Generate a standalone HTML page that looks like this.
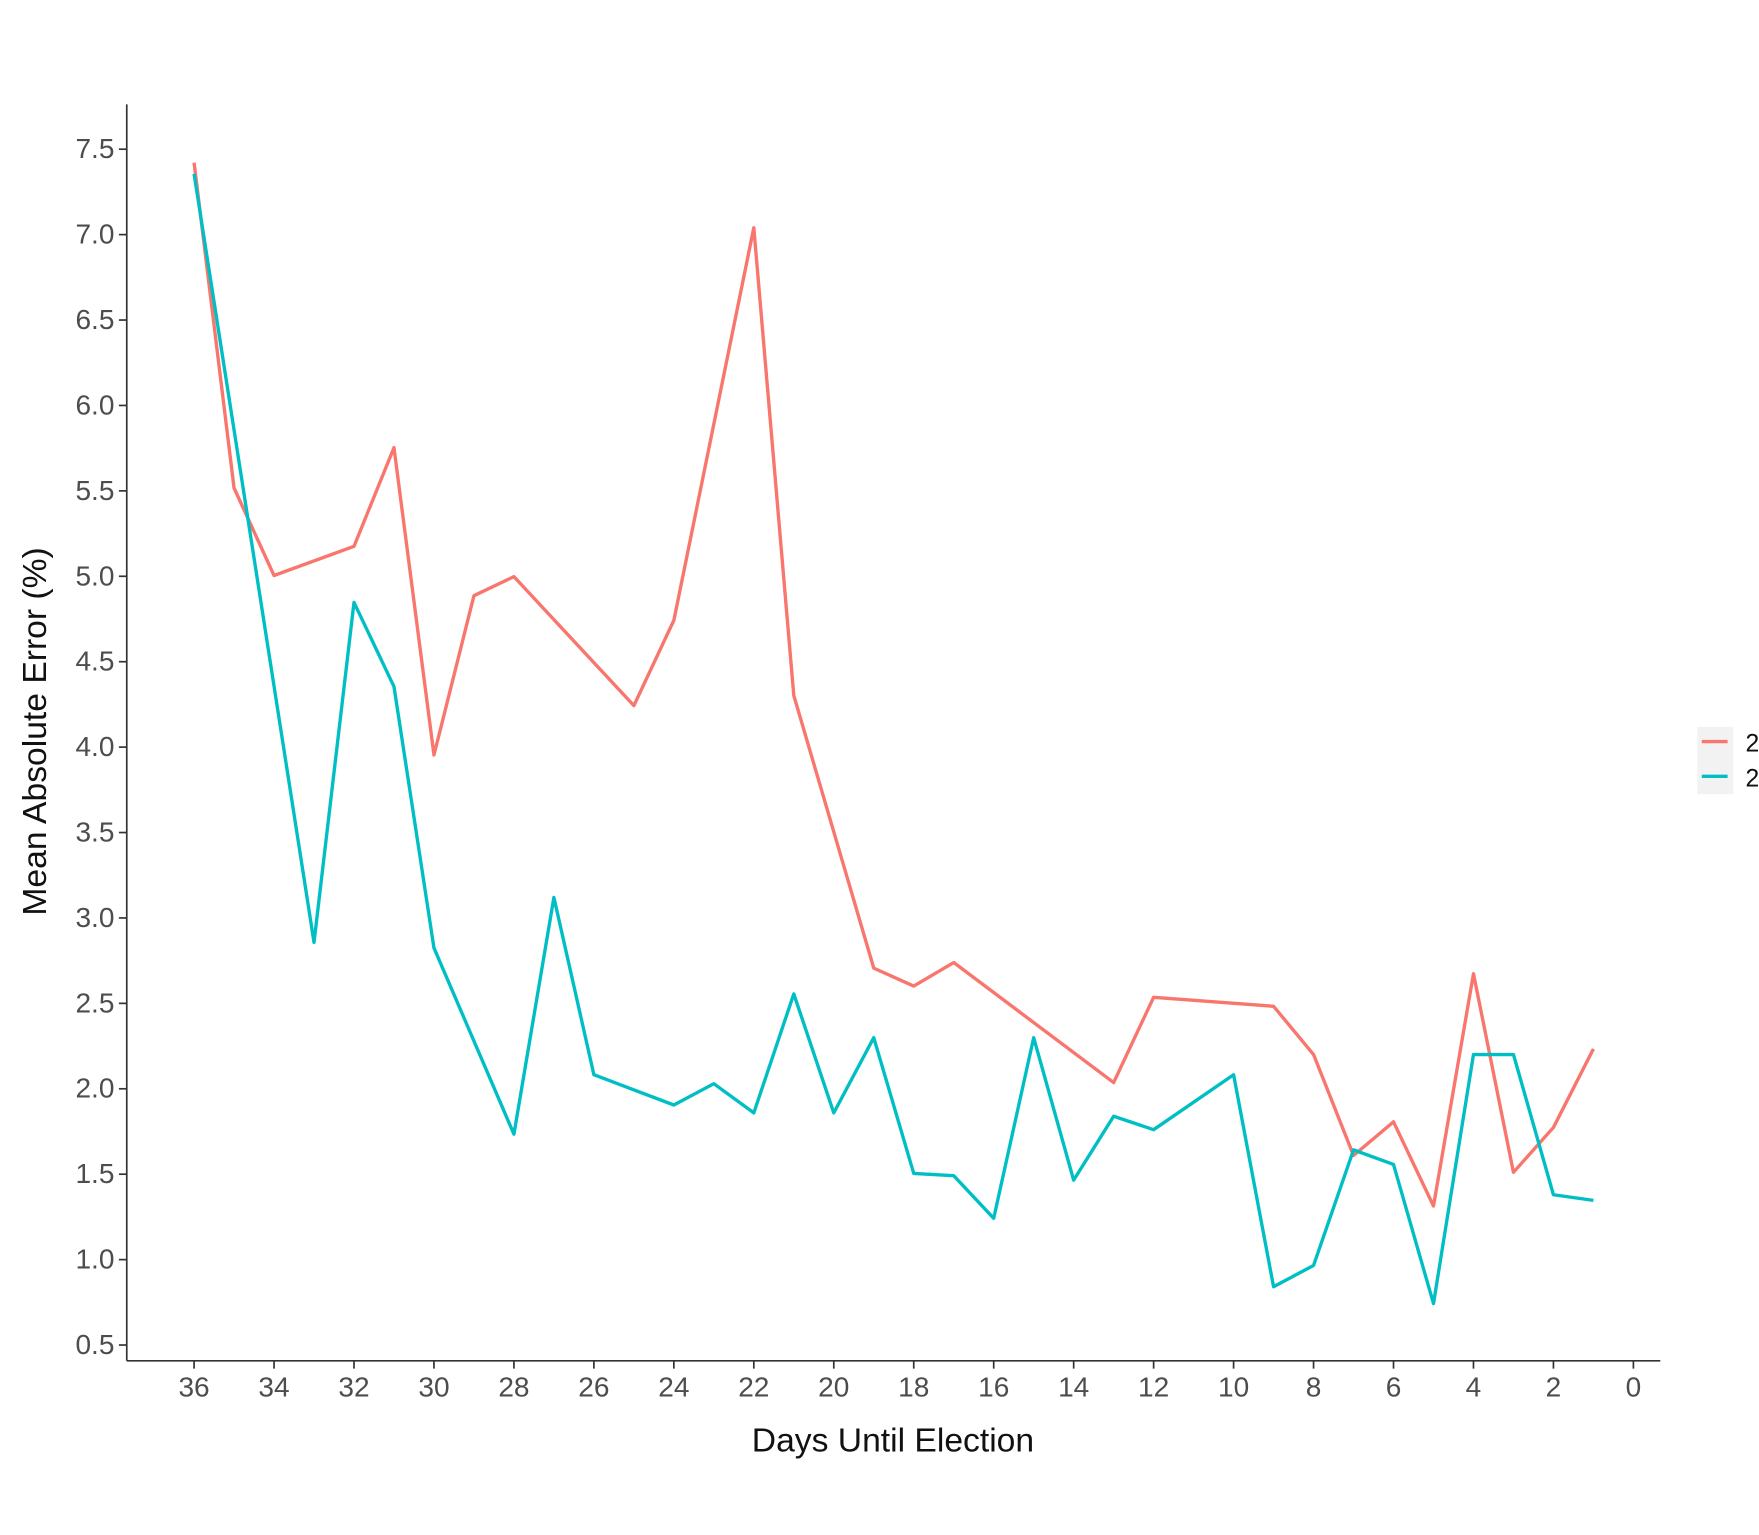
<!DOCTYPE html>
<html><head><meta charset="utf-8"><style>
html,body{margin:0;padding:0;background:#fff;}
svg{display:block}
text{font-family:"Liberation Sans",Arial,sans-serif;}
</style></head><body>
<svg width="1759" height="1535" viewBox="0 0 1568 1368.3" preserveAspectRatio="none">
<rect width="1568" height="1369" fill="#fff"/>
<g stroke="#333" stroke-width="1.5" fill="none">
<line x1="113" y1="93" x2="113" y2="1213"/>
<line x1="113" y1="1213" x2="1480" y2="1213"/>
</g>
<g id="yt" font-size="25" fill="#4d4d4d" text-anchor="end"></g>
<g id="xt" font-size="25" fill="#4d4d4d" text-anchor="middle"></g>
<text x="796" y="1294" font-size="30" fill="#111" text-anchor="middle">Days Until Election</text>
<text transform="translate(41,652) rotate(-90)" font-size="30" fill="#111" text-anchor="middle">Mean Absolute Error (%)</text>
<rect x="1513" y="648" width="32" height="60" fill="#f2f2f2"/>
<line x1="1517" y1="661" x2="1540" y2="661" stroke="#F8766D" stroke-width="3"/>
<line x1="1517" y1="692" x2="1540" y2="692" stroke="#00BFC4" stroke-width="3"/>
<text x="1556" y="670" font-size="22" fill="#111">2</text>
<text x="1556" y="701" font-size="22" fill="#111">2</text>
<polyline id="red" fill="none" stroke="#F8766D" stroke-width="3" stroke-linejoin="round"/>
<polyline id="teal" fill="none" stroke="#00BFC4" stroke-width="3" stroke-linejoin="round"/>
</svg>
<script>
var ns="http://www.w3.org/2000/svg";
function X(d){return 173+(36-d)*35.64;}
var yt=document.getElementById('yt');
for(var i=0;i<=14;i++){var v=7.5-i*0.5,y=133+i*76.14;
var l=document.createElementNS(ns,'line');l.setAttribute('x1',106);l.setAttribute('x2',113);l.setAttribute('y1',y);l.setAttribute('y2',y);l.setAttribute('stroke','#333');l.setAttribute('stroke-width','1.5');yt.parentNode.appendChild(l);
var t=document.createElementNS(ns,'text');t.setAttribute('x',102);t.setAttribute('y',y+8);t.textContent=v.toFixed(1);yt.appendChild(t);}
var xt=document.getElementById('xt');
for(var d=36;d>=0;d-=2){var x=X(d);
var l=document.createElementNS(ns,'line');l.setAttribute('x1',x);l.setAttribute('x2',x);l.setAttribute('y1',1213);l.setAttribute('y2',1220);l.setAttribute('stroke','#333');l.setAttribute('stroke-width','1.5');xt.parentNode.appendChild(l);
var t=document.createElementNS(ns,'text');t.setAttribute('x',x);t.setAttribute('y',1245);t.textContent=d;xt.appendChild(t);}
var red=[[36,145],[35,435],[34,513],[32,487],[31,399],[30,673],[29,531],[28,514],[25,629],[24,553],[22,203],[21,620],[19,863],[18,879],[17,858],[13,965],[12,889],[9,897],[8,940],[7,1030],[6,1000],[5,1075],[4,868],[3,1045],[2,1005],[1,935]];
var teal=[[36,155],[33,840],[32,537],[31,612],[30,845],[28,1011],[27,800],[26,958],[24,985],[23,966],[22,992],[21,886],[20,992],[19,925],[18,1046],[17,1048],[16,1086],[15,925],[14,1052],[13,995],[12,1007],[10,958],[9,1147],[8,1128],[7,1025],[6,1038],[5,1162],[4,940],[3,940],[2,1065],[1,1070]];
function pts(a){return a.map(function(p){return X(p[0])+','+p[1];}).join(' ');}
document.getElementById('red').setAttribute('points',pts(red));
document.getElementById('teal').setAttribute('points',pts(teal));
</script>
</body></html>
